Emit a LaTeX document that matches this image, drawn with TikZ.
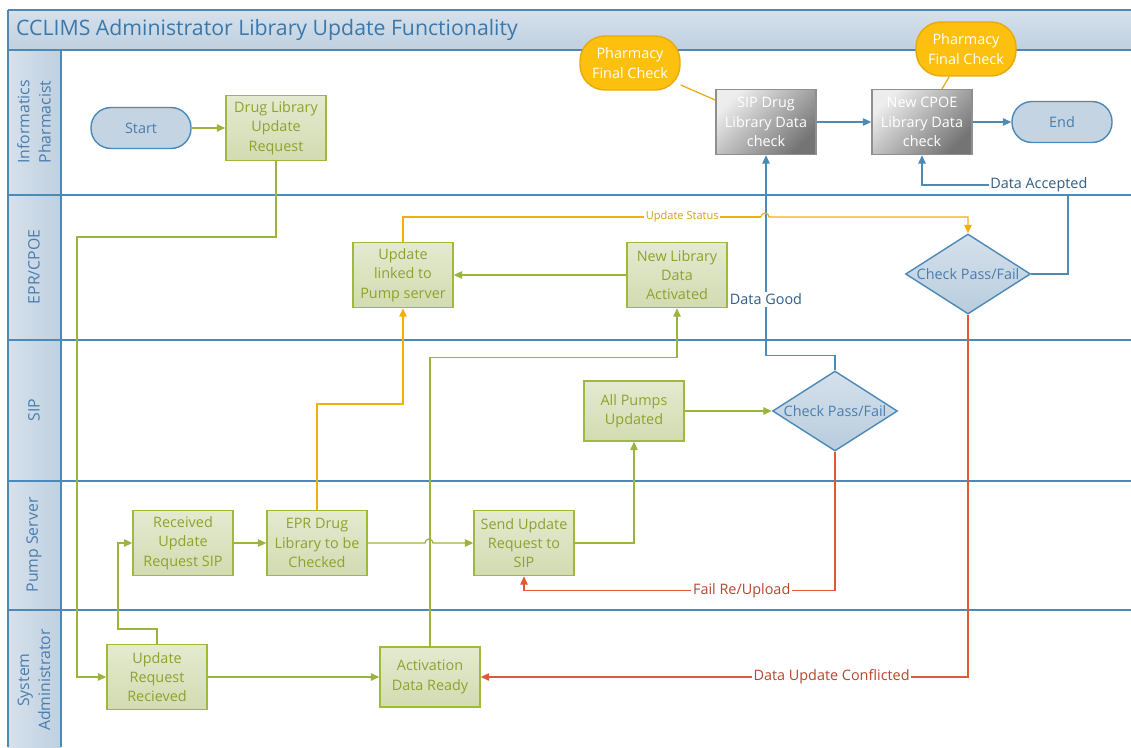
\documentclass[tikz,border=0pt]{standalone}
\usepackage{fontspec}
\setmainfont{Open Sans}
\usetikzlibrary{shapes.geometric,arrows.meta}

\definecolor{frameblue}{HTML}{4A89B8}
\definecolor{bluetext}{HTML}{4A7DAD}
\definecolor{titleblue}{HTML}{3B78AA}
\definecolor{lanetop}{HTML}{D6E1EC}
\definecolor{lanebot}{HTML}{BFD0E0}
\definecolor{grnedge}{HTML}{9FB93A}
\definecolor{grntop}{HTML}{E4EAD0}
\definecolor{grnbot}{HTML}{D2DBB1}
\definecolor{grntext}{HTML}{8CA32C}
\definecolor{grnline}{HTML}{9AB43C}
\definecolor{ylwfill}{HTML}{FDC00F}
\definecolor{ylwedge}{HTML}{E9A90A}
\definecolor{ylwline}{HTML}{F1B10A}
\definecolor{ylwtext}{HTML}{D4A017}
\definecolor{redline}{HTML}{DE5A35}
\definecolor{redtext}{HTML}{B5482E}
\definecolor{blueline}{HTML}{4D8AB5}
\definecolor{darkblue}{HTML}{2F5E89}
\definecolor{termfill}{HTML}{C4D4E3}
\definecolor{dectop}{HTML}{D5E1EC}
\definecolor{decbot}{HTML}{B9CCDD}
\definecolor{graytop}{HTML}{EDEDED}
\definecolor{graybot}{HTML}{747474}
\definecolor{grayedge}{HTML}{8F8F8F}

\begin{document}
\begin{tikzpicture}[x=0.02cm, y=-0.02cm,
  >={Triangle[length=1.7mm,width=1.5mm]},
  font=\fontsize{8.2}{11}\selectfont,
  box/.style={draw=grnedge, line width=0.8pt, top color=grntop, bottom color=grnbot, text=grntext, align=center, minimum width=2cm, minimum height=1.3cm, inner sep=1pt},
  chkbox/.style={draw=grayedge, line width=0.8pt, top color=graytop, bottom color=graybot, shading angle=45, text=white, align=center, minimum width=2cm, minimum height=1.3cm, inner sep=1pt},
  term/.style={draw=frameblue, line width=0.8pt, fill=termfill, text=bluetext, rounded corners=0.4cm, minimum width=2cm, minimum height=0.82cm},
  note/.style={draw=ylwedge, line width=0.8pt, fill=ylwfill, text=white, align=center, rounded corners=0.5cm, minimum width=2cm, minimum height=1.08cm},
  dec/.style={diamond, draw=frameblue, line width=0.8pt, top color=dectop, bottom color=decbot, text=bluetext, aspect=1.6, inner sep=0pt, minimum width=2.5cm, minimum height=1.6cm},
  lane/.style={rotate=90, text=bluetext, align=center, font=\fontsize{9}{12}\selectfont},
  gln/.style={draw=grnline, line width=0.7pt},
  yln/.style={draw=ylwline, line width=0.7pt},
  bln/.style={draw=blueline, line width=0.7pt},
  rln/.style={draw=redline, line width=0.7pt},
  lbl/.style={fill=white, inner sep=1pt}]

\useasboundingbox (0,0) rectangle (1131,747);

%lanes
\shade[top color=lanetop, bottom color=lanebot] (8,10) rectangle (1131,50);
\shade[left color=lanetop, right color=lanebot] (8,50) rectangle (61,747);
\draw[frameblue, line width=1.2pt] (8,10) -- (1131,10) (8,50) -- (1131,50)
  (8,195) -- (1131,195) (8,340) -- (1131,340) (8,481) -- (1131,481) (8,610) -- (1131,610)
  (8,10) -- (8,747) (61,50) -- (61,747);
\node[anchor=west, text=titleblue, font=\fontsize{12.1}{14}\selectfont] (title) at (10,30) {CCLIMS Administrator Library Update Functionality};
\node[lane] (lpharm) at (34,122) {Informatics\\Pharmacist};
\node[lane] (lepr) at (34,267) {EPR/CPOE};
\node[lane] (lsip) at (34,410) {SIP};
\node[lane] (lpump) at (34,545) {Pump Server};
\node[lane] (ladmin) at (34,680) {System\\Administrator};

%nodes
\node[term] (start) at (141,128) {Start};
\node[box] (req) at (276,128) {Drug Library\\Update\\Request};
\node[chkbox] (sipchk) at (766,122) {SIP Drug\\Library Data\\check};
\node[chkbox] (cpoechk) at (922,122) {New CPOE\\Library Data\\check};
\node[term] (fin) at (1062,122) {End};
\node[note] (pfc1) at (630,63) {Pharmacy\\Final Check};
\node[note] (pfc2) at (966,49) {Pharmacy\\Final Check};

\node[box] (linked) at (403,275) {Update\\linked to\\Pump server};
\node[box] (activ) at (677,275) {New Library\\Data\\Activated};
\node[dec] (chk1) at (968,274) {Check Pass/Fail};

\node[box, minimum height=1.2cm] (pumps) at (634,411) {All Pumps\\Updated};
\node[dec] (chk2) at (835,411) {Check Pass/Fail};

\node[box] (recsip) at (183,543) {Received\\Update\\Request SIP};
\node[box] (eprchk) at (317,543) {EPR Drug\\Library to be\\Checked};
\node[box] (send) at (524,543) {Send Update\\Request to\\SIP};

\node[box] (recv) at (157,677) {Update\\Request\\Recieved};
\node[box, minimum height=1.2cm] (ready) at (430,677) {Activation\\Data Ready};

%connectors
\draw[gln, ->] (start) -- (req);
\draw[gln, ->] (req.south) |- (77,237) |- (recv.west);
\draw[gln, ->] (recv.north) |- (118,629) |- (recsip.west);
\draw[gln, ->] (recsip) -- (eprchk);
\draw[gln, ->] (eprchk.east) -- (425,543) arc[start angle=180, end angle=0, radius=0.08cm] -- (send.west);
\draw[yln, ->] (eprchk.north) |- (403,404) -- (linked.south);
\draw[gln, ->] (recv) -- (ready);
\draw[gln, ->] (ready.north) -- ++(0,-289) -| (activ.south);
\draw[gln, ->] (activ) -- (linked);
\draw[gln, ->] (send.east) -| (pumps.south);
\draw[gln, ->] (pumps) -- (chk2);
\draw[bln, ->] (chk2.north) -- ++(0,-15) -| (sipchk.south) node[pos=0.64, lbl, text=darkblue] {Data Good};
\draw[rln, ->] (chk2.south) -- ++(0,139) -| (send.south) node[pos=0.15, lbl, text=redtext] {Fail Re/Upload};
\draw[rln, ->] (chk1.south) |- (ready.east) node[pos=0.64, lbl, text=redtext] {Data Update Conflicted};
\draw[bln, ->] (chk1.east) -| (1068,185) -| (cpoechk.south) node[pos=0.1, lbl, text=darkblue] {Data Accepted};
\draw[yln] (linked.north) |- (761,217) node[pos=0.89, lbl, text=ylwtext, font=\fontsize{6.3}{8}\selectfont] {Update Status};
\draw[yln, ->] (761,217) arc[start angle=180, end angle=0, radius=0.08cm] -| (chk1.north);
\draw[bln, ->] (sipchk) -- (cpoechk);
\draw[bln, ->] (cpoechk) -- (fin);
\draw[ylwedge, line width=0.7pt] (pfc1) -- (sipchk);
\draw[ylwedge, line width=0.7pt] (pfc2) -- (cpoechk);

\end{tikzpicture}
\end{document}
